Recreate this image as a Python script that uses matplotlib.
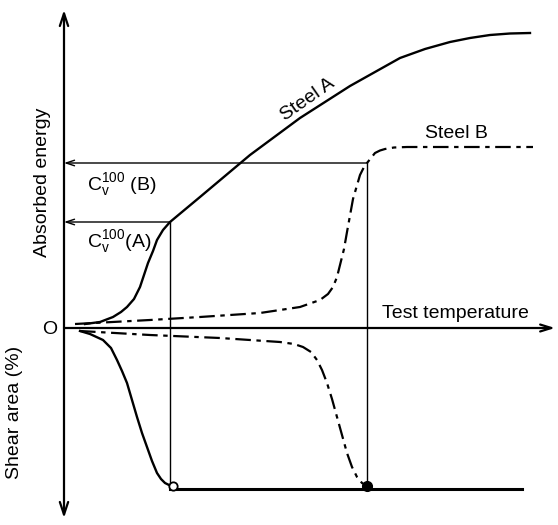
import matplotlib
matplotlib.use("Agg")
import matplotlib.pyplot as plt

plt.rcParams['font.family'] = ['Liberation Sans', 'DejaVu Sans']
plt.rcParams['mathtext.fontset'] = 'custom'
plt.rcParams['mathtext.rm'] = 'Liberation Sans'
plt.rcParams['mathtext.it'] = 'Liberation Sans'

# schematic values (origin = crossing of the axes)
# absorbed energy vs test temperature
temp_a = [21, 36, 49, 57, 63, 70, 76, 80, 84, 89, 93, 99, 106, 136, 186, 236, 286,
          336, 361, 386, 406, 426, 446, 466]
energy_a = [4, 6, 11, 16, 21, 29, 41, 53, 65, 77, 88, 98, 106, 131, 173, 210, 242,
            270, 279, 286, 290, 293, 294.5, 295]

temp_b = [11, 86, 136, 196, 236, 256, 264, 269, 273, 276, 280, 283, 289, 296, 300, 303,
          307, 311, 316, 321, 330, 343, 469]
energy_b = [4, 8, 11, 15, 21, 28, 34, 41, 51, 63, 79, 96, 129, 153, 161, 165,
            170, 175, 177.5, 179, 180.5, 181, 181]

# shear area (drawn downwards)
temp_sa = [16, 26, 39, 47, 53, 58, 63, 68, 73, 78, 83, 88, 93, 97, 101, 105, 108]
shear_a = [-3, -6, -12, -20, -32, -43, -55, -72, -89, -105, -119, -133, -145, -151, -155, -157, -158]

temp_sb = [16, 86, 156, 216, 230, 239, 247, 253, 258, 263, 268, 273, 278, 283, 288, 293, 298, 303]
shear_b = [-3, -7, -10, -14, -16, -19, -24, -32, -42, -55, -71, -89, -107, -125, -139, -149, -155, -158]

# Cv100 points for the two steels
cv_temp = [106, 303]
cv_level = [106, 165]
full_shear = -161
full_shear_end = 458

fig = plt.figure(figsize=(5.58, 5.25), dpi=100)
ax = fig.add_axes([0, 0, 1, 1])
ax.set_xlim(-64, 494)
ax.set_ylim(-197, 328)
ax.axis('off')

k = 'black'
bdash = (0, (7, 2.5, 2, 2.5))

# axes with arrows
ax.annotate('', xy=(0, 318), xytext=(0, -190),
            arrowprops=dict(arrowstyle='<->,head_length=0.9,head_width=0.3', lw=1.6, color=k,
                            shrinkA=0, shrinkB=0))
ax.annotate('', xy=(491, 0), xytext=(0, 0),
            arrowprops=dict(arrowstyle='->,head_length=0.8,head_width=0.25', lw=1.6, color=k,
                            shrinkA=0, shrinkB=0))

# energy curves
ax.plot(temp_a, energy_a, color=k, lw=1.7, solid_joinstyle='round')
ax.plot(temp_b, energy_b, color=k, lw=1.6, linestyle=bdash)

# shear curves
ax.plot(temp_sa, shear_a, color=k, lw=1.7, solid_joinstyle='round')
ax.plot(temp_sb, shear_b, color=k, lw=1.6, linestyle=bdash)
ax.plot([cv_temp[0], full_shear_end], [full_shear, full_shear], color=k, lw=2.2)

# Cv100 construction lines
for t, e in zip(cv_temp, cv_level):
    ax.plot([t, t], [e, full_shear], color=k, lw=1.0)
    ax.annotate('', xy=(0, e), xytext=(t, e),
                arrowprops=dict(arrowstyle='->,head_length=0.6,head_width=0.2', lw=1.0, color=k,
                                shrinkA=0, shrinkB=0))

ax.plot(cv_temp[0] + 3, shear_a[-1], 'o', ms=6, mfc='white', mec=k, mew=1.3)
ax.plot(cv_temp[1], shear_b[-1], 'o', ms=7, color=k)

# texts
fs = 14
ax.text(244, 228, 'Steel A', fontsize=fs, rotation=35, ha='center', va='center')
ax.text(392, 195, 'Steel B', fontsize=fs, ha='center', va='center')
ax.text(318, 15, 'Test temperature', fontsize=fs, ha='left', va='center')
ax.text(23, 143, r'C$_\mathrm{v}^{100}$ (B)', fontsize=fs, ha='left', va='center')
ax.text(23, 86, r'C$_\mathrm{v}^{100}$(A)', fontsize=fs, ha='left', va='center')
ax.text(-14, -1, 'O', fontsize=fs, ha='center', va='center')
ax.text(-21, 146, 'Absorbed energy', fontsize=fs, rotation=90, ha='center', va='center')
ax.text(-49, -84, 'Shear area (%)', fontsize=fs, rotation=90, ha='center', va='center')

fig.savefig('out.png', dpi=100)
